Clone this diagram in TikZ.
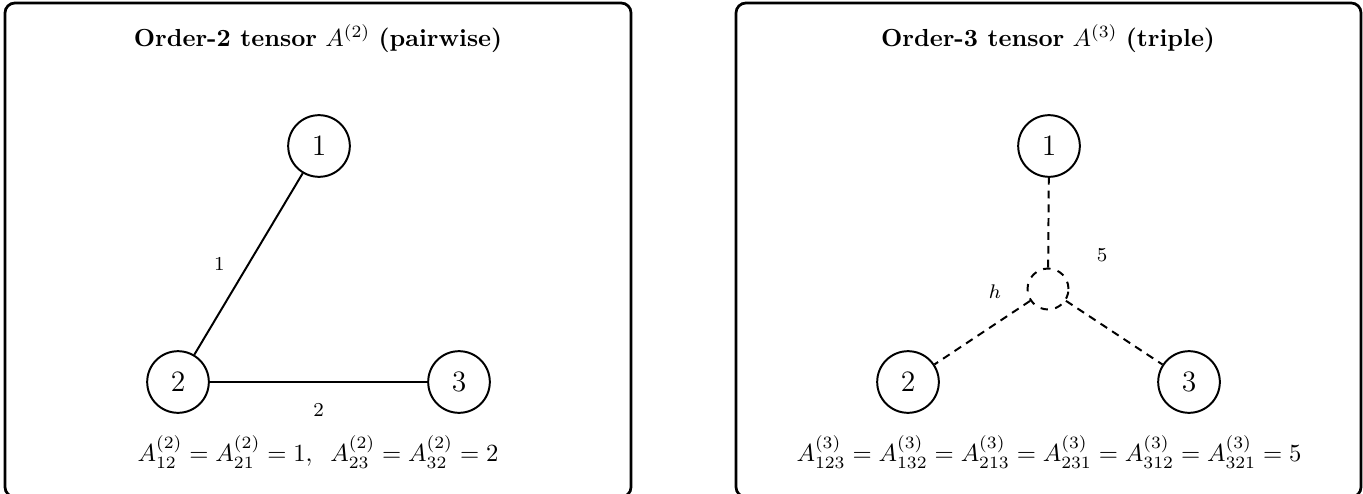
\documentclass[tikz,border=0pt]{standalone}
\usepackage{amsmath}
\usetikzlibrary{positioning}

\begin{document}
\begin{tikzpicture}[x=0.01425cm,y=-0.01425cm,
    vert/.style={circle,draw,thick,minimum size=25pt,inner sep=0pt,font=\large},
    hubnode/.style={circle,draw,thick,dashed,minimum size=16.6pt,inner sep=0pt},
    hyperedge/.style={thick,dash pattern=on 3.2pt off 2.4pt},
    panel/.style={draw,line width=1.1pt,rounded corners=4pt},
    wlabel/.style={font=\footnotesize}]
        \useasboundingbox (0,0) rectangle (1363,494);
        % pairwise panel
        \draw[panel] (5,3) rectangle (631,497);
        \node (titleA) at (318,39) {\textbf{Order-2 tensor} $A^{(2)}$ \textbf{(pairwise)}};
        \node[vert] (a1) at (319,146) {1};
        \node[vert] (a2) at (178,382) {2};
        \node[vert] (a3) at (459,382) {3};
        \draw[thick] (a2) -- node[wlabel,left=6pt] {1} (a1);
        \draw[thick] (a2) -- node[wlabel,below=5pt] {2} (a3);
        \node (eqA) at (318,452) {$A^{(2)}_{12} = A^{(2)}_{21} = 1,\;\; A^{(2)}_{23} = A^{(2)}_{32} = 2$};
        % triple panel
        \draw[panel] (736,3) rectangle (1361,497);
        \node (titleB) at (1048,39) {\textbf{Order-3 tensor} $A^{(3)}$ \textbf{(triple)}};
        \node[vert] (b1) at (1049,146) {1};
        \node[vert] (b2) at (908,382) {2};
        \node[vert] (b3) at (1189,382) {3};
        \node[hubnode] (hub) at (1048,289) {};
        \draw[hyperedge] (hub) -- (b1);
        \draw[hyperedge] (hub) -- (b2);
        \draw[hyperedge] (hub) -- (b3);
        \node[wlabel] (hlab) at (995,292) {$h$};
        \node[wlabel] (wlab) at (1102,255) {5};
        \node (eqB) at (1049,452) {$A^{(3)}_{123} = A^{(3)}_{132} = A^{(3)}_{213} = A^{(3)}_{231} = A^{(3)}_{312} = A^{(3)}_{321} = 5$};
      \end{tikzpicture}
\end{document}
